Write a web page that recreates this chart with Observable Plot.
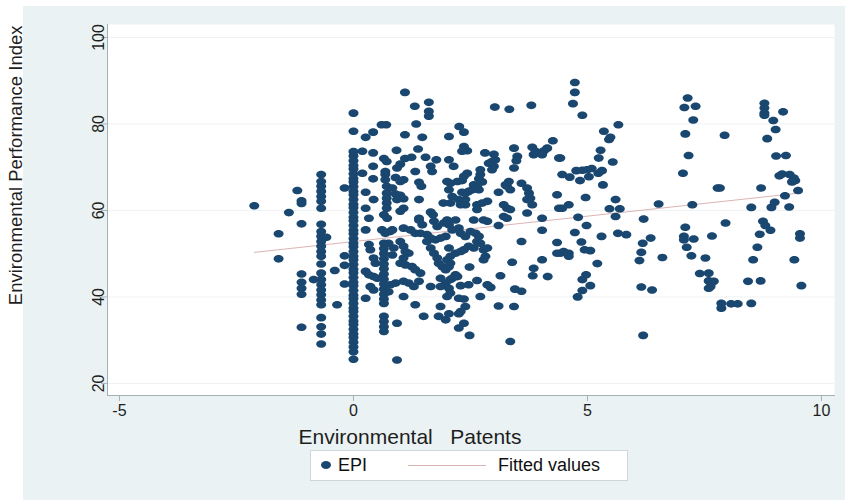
<!DOCTYPE html>
<html><head><meta charset="utf-8">
<script src="https://cdn.jsdelivr.net/npm/d3@7"></script>
<script src="https://cdn.jsdelivr.net/npm/@observablehq/plot@0.6"></script>
<style>
body{margin:0;background:#ffffff;}
#wrap{position:relative;width:845px;height:500px;overflow:hidden;font-family:"Liberation Sans",Arial,sans-serif;}
#panel{position:absolute;left:23px;top:6px;width:822px;height:494px;background:#eaf2f3;}
#chart{position:absolute;left:0;top:0;}
#legend{position:absolute;left:310px;top:450px;width:318px;height:31px;background:#fff;border:1px solid #cfd6d9;box-sizing:border-box;color:#111;font-size:18px;}
#legend .dot{position:absolute;left:10px;top:10px;width:10px;height:8px;border-radius:50%;background:#1a476f;}
#legend .t1{position:absolute;left:27px;top:4px;}
#legend .ln{position:absolute;left:97px;top:14px;width:78px;height:1px;background:#dcb4b4;}
#legend .t2{position:absolute;left:187px;top:4px;}
</style></head>
<body>
<div id="wrap"><div id="panel"></div><div id="chart"></div>
<div id="legend"></div></div>
<script>
const xTicks = [-5, 0, 5, 10];
const yTicks = [20, 40, 60, 80, 100];
const xTitle = "Environmental\u00a0\u00a0 Patents";
const yTitle = "Environmental Performance Index";
const legendLabels = ["EPI", "Fitted values"];

// fitted line endpoints
const fitX = [-2.12, 9.52];
const fitY = [50.3, 64.0];

// observations [patents, EPI]
const obsLeft = [[-2.12,61.1],[-1.6,54.6],[-1.6,48.8],[-1.38,59.5],[-1.2,64.6],[-1.11,62.2],[-1.11,61.6],[-1.11,56.9],[-1.11,45.3],[-1.11,43.4],[-1.11,42.0],[-1.11,40.6],[-1.11,33.0],[-0.85,44.0],
[-0.69,68.3],[-0.69,66.7],[-0.69,65.6],[-0.69,64.4],[-0.69,63.2],[-0.69,62.1],[-0.69,60.5],[-0.69,56.8],[-0.69,55.1],[-0.69,54.0],[-0.69,52.8],[-0.69,51.7],[-0.69,50.5],[-0.69,49.4],[-0.69,47.6],[-0.69,45.5],[-0.69,44.0],[-0.69,42.8],[-0.69,41.6],[-0.69,40.5],[-0.69,39.3],[-0.69,38.2],[-0.69,35.2],[-0.69,33.1],[-0.69,31.4],[-0.69,29.1],
[-0.58,53.8],[-0.4,46.1],[-0.35,38.2],[-0.19,65.2],[-0.19,49.5],[-0.19,47.3],[-0.19,43.0]];

const zeroEPI = [82.5,78.3,73.6,72.6,71.5,70.4,69.6,68.5,67.4,66.6,65.5,64.4,63.6,62.5,61.4,60.6,59.5,58.4,57.6,56.5,55.4,54.6,53.5,52.4,51.6,50.5,49.4,48.6,47.5,46.4,45.6,44.5,43.4,42.6,41.5,40.4,39.6,38.5,37.4,36.6,35.5,34.4,33.6,32.5,31.4,30.6,29.5,28.4,27.3,25.6];

const obsNear = [[1.10,87.3],[1.31,84.1],[1.61,85.0],[1.61,82.9],[1.61,81.8],[0.60,79.8],[0.70,79.8],[1.34,80.0],[0.26,76.9],[0.42,78.1],[1.10,77.5],[1.47,76.9],[0.19,73.7],[0.42,73.3],[0.92,73.9],[1.38,74.2],[0.65,72.0],[0.71,71.3],[1.10,72.0],[1.24,72.3],[1.54,72.3],[1.77,71.7],[0.42,70.2],[1.00,70.7],[0.93,69.8],[1.65,70.2],[1.68,69.0],[0.68,69.0],[0.68,68.3],[1.32,69.0],[0.19,68.6],[0.42,67.3],[0.68,67.1],[0.90,67.6],[1.00,66.7],[1.07,67.1],[1.40,66.5],[1.45,65.6],[2.0,66.7],
[0.71,65.6],[0.71,64.0],[0.71,62.8],[0.71,61.7],[0.71,60.5],[0.26,64.2],[0.43,62.5],[0.83,65.2],[0.90,63.8],[1.0,63.5],[1.07,62.7],[0.93,62.5],[1.40,62.5],[1.65,59.6],[1.70,59.0],[1.92,61.7],[0.26,60.5],[0.65,59.0],[0.72,58.2],[1.0,59.8],[1.07,60.5],[0.33,58.2],[1.40,58.2],
[0.26,55.5],[0.61,55.5],[0.68,54.7],[0.78,55.1],[0.83,55.5],[1.07,55.9],[1.22,55.5],[1.32,54.7],[1.43,54.7],[1.57,54.4],
[0.65,52.4],[0.65,51.2],[0.65,50.0],[0.65,48.8],[0.65,47.6],[0.65,46.5],[0.65,45.3],[0.65,44.1],[0.65,43.0],[0.65,41.8],[0.65,40.6],[0.65,39.5],[0.65,38.5],[0.65,35.5],[0.65,34.3],[0.65,33.1],[0.65,32.0],
[0.93,33.9],[0.93,25.4],[0.33,52.1],[0.36,50.9],[0.43,49.0],[0.47,47.8],[0.26,45.9],[0.33,45.1],[0.43,44.7],[0.51,44.3],[0.36,42.4],[0.43,41.6],[0.26,39.7],
[0.75,52.4],[0.86,51.3],[0.83,49.7],[1.0,52.8],[1.07,51.7],[1.11,50.5],[1.18,50.1],[1.07,49.0],[1.0,47.8],[1.11,47.4],[1.25,47.0],[1.32,46.3],
[1.43,45.5],[1.40,43.6],[1.29,42.4],[1.18,43.2],[1.07,43.6],[0.90,43.2],[0.79,42.8],[0.75,41.2],[1.07,40.1],[1.32,38.2],[1.50,35.5],[1.65,42.4],
[1.57,52.8],[1.65,51.3],[1.72,50.1],[1.79,49.0],[1.82,47.8],[1.90,47.0],[1.97,46.3],[1.65,53.6],[1.75,53.2],[1.86,53.6],[1.97,54.0],
[1.86,44.3],[1.97,43.2],[1.86,42.4],[1.86,37.8],[1.82,35.5],[1.97,34.7],[1.72,57.5],[1.79,56.3],[1.93,57.1],[2.0,57.8],[1.40,57.8],[1.47,56.7]];

const obsMid = [[3.02,83.9],[3.33,83.4],[3.80,84.3],[2.26,79.4],[2.36,78.1],[2.04,77.1],[2.36,74.8],[2.32,73.7],[2.43,73.8],[2.04,71.7],[2.14,70.2],[2.81,73.3],[3.0,73.0],[3.03,71.7],[2.96,71.3],[2.89,70.9],[3.0,70.2],[2.96,69.4],[3.43,74.4],[3.50,72.5],[3.48,71.5],[3.43,69.8],[3.82,74.6],[3.89,73.7],[4.0,73.3],[4.07,73.8],[4.14,74.4],[4.26,76.1],[3.85,72.9],[4.03,72.9],[4.39,72.1],[2.71,69.4],[2.71,68.3],[2.68,67.3],[2.43,68.6],[2.36,67.9],[2.07,66.3],[2.22,66.7],[2.32,66.9],[2.57,65.9],[2.64,65.6],[2.68,64.8],[2.75,66.6],[2.54,64.8],[2.46,64.4],[2.39,64.0],[2.32,64.2],[2.04,64.8],[2.11,63.2],[2.07,61.7],[2.25,62.5],[2.39,62.5],[2.29,61.3],[2.39,61.3],[3.10,64.2],[3.32,66.7],[3.28,65.6],[3.35,64.8],[3.25,65.9],[3.59,66.3],[3.71,65.2],[3.75,64.0],[3.78,62.8],[3.71,62.5],[3.82,61.3],[2.86,62.1],[2.75,61.7],[2.64,61.3],[3.21,61.3],[3.28,60.5],[3.35,60.2],[2.64,60.2],[3.71,59.4],[4.35,63.6],[4.39,60.5],[4.03,58.2],[2.18,57.8],[2.57,57.8],[2.78,57.8],[3.21,58.6],[3.28,58.2],
[2.04,56.7],[2.11,55.5],[2.25,55.9],[2.29,54.7],[2.39,54.0],[2.50,55.1],[2.61,54.7],[2.68,54.0],[2.64,52.8],[2.71,52.4],[2.57,51.3],[2.46,51.7],[2.86,57.5],[3.10,56.5],
[2.04,51.3],[2.07,49.4],[2.0,48.6],[2.07,47.8],[2.04,47.0],[2.18,50.1],[2.29,50.5],[2.36,50.9],[2.78,50.9],[2.86,51.3],[2.82,49.4],[2.78,48.6],[2.48,46.9],[2.18,45.1],[2.11,44.3],[2.07,44.0],[2.22,44.7],[2.64,43.8],[2.29,42.6],[2.46,42.8],[2.04,42.0],[2.07,40.9],[2.0,40.1],[2.86,42.8],[2.93,42.2],[2.71,40.1],[2.25,39.7],[2.36,39.5],[2.39,37.8],[2.29,36.6],[2.25,36.1],[2.04,36.1],[2.36,33.9],[2.25,32.8],[2.48,31.1],[3.10,37.9],[3.43,37.8],[3.35,29.7],[3.14,44.9],[3.39,48.0],[3.45,41.8],[3.59,41.3],[3.59,52.8],[4.03,55.4],[3.85,46.6],[3.83,44.9],[4.03,48.6],[4.15,44.7],[4.35,52.6],[4.35,50.1]];

const obsRight = [[4.73,89.6],[4.73,87.3],[4.69,84.7],[4.89,82.0],[5.66,79.8],[5.35,78.3],[5.46,76.4],[5.49,76.9],[5.28,73.9],[5.24,72.1],[4.42,72.1],[5.54,71.2],[4.46,68.3],[4.62,67.7],[4.76,69.2],[4.89,69.3],[4.99,69.4],[5.09,69.7],[5.23,68.6],[5.31,69.2],[4.84,66.9],[5.03,67.8],[5.33,65.9],[4.96,63.0],[4.46,60.5],[4.60,61.3],[5.60,62.5],[5.47,60.4],[5.69,60.4],[5.60,58.6],[6.52,61.5],[4.80,58.4],[6.20,58.0],[4.98,56.5],[4.73,54.9],[4.87,52.7],[5.30,54.0],[5.65,54.7],[5.83,54.4],[4.94,50.9],[5.06,50.7],[4.42,50.1],[4.60,50.1],[4.60,49.4],[4.49,50.5],[5.21,47.7],[6.18,52.4],[6.35,53.6],[6.15,50.3],[6.11,48.4],[6.60,49.1],[4.97,45.1],[4.89,44.0],[5.06,42.6],[4.89,41.5],[4.79,40.0],[6.15,42.3],[6.38,41.6],[6.19,31.1]];

const obsFar = [[7.14,86.0],[7.07,83.8],[7.31,84.1],[7.26,80.9],[7.09,77.7],[7.16,72.7],[7.04,68.6],[7.93,77.4],[7.78,65.2],[7.83,65.2],[7.24,61.3],[7.09,56.1],[7.06,54.0],[7.06,53.2],[7.27,53.4],[7.12,51.5],[7.66,54.1],[7.95,57.1],[7.22,49.5],[7.52,49.0],[7.40,45.4],[7.59,45.5],[7.59,43.7],[7.66,43.4],[7.63,42.4],[7.59,42.0],[7.70,43.6],[7.86,38.5],[7.86,37.4],[8.07,38.4],[8.21,38.4],[8.50,38.5],[8.78,84.8],[8.78,83.7],[8.78,82.5],[8.78,82.0],[9.18,82.8],[8.97,80.8],[9.02,78.7],[8.84,76.6],[9.03,72.6],[9.24,72.7],[9.10,68.0],[9.16,68.4],[9.32,68.3],[9.41,67.5],[9.44,66.9],[9.37,66.6],[9.50,64.6],[8.71,65.2],[9.22,63.4],[8.50,60.7],[8.93,60.7],[9.0,61.9],[9.31,60.8],[8.75,57.5],[8.80,56.5],[8.91,55.4],[8.68,54.5],[8.63,51.5],[8.54,48.6],[8.43,43.6],[8.70,43.7],[9.54,54.6],[9.54,53.6],[9.42,48.6],[9.57,42.6]];

const points = [
  ...obsLeft,
  ...zeroEPI.map(v => [0, v]),
  ...obsNear, ...obsMid, ...obsRight, ...obsFar
].map(([p, e]) => ({patents: p, epi: e}));
const fit = fitX.map((x, i) => ({patents: x, epi: fitY[i]}));

// elliptical marker like the reference
const ellipse = {
  draw(context, size) {
    const rx = 5, ry = 3.8, k = 0.5522847498;
    context.moveTo(rx, 0);
    context.bezierCurveTo(rx, ry * k, rx * k, ry, 0, ry);
    context.bezierCurveTo(-rx * k, ry, -rx, ry * k, -rx, 0);
    context.bezierCurveTo(-rx, -ry * k, -rx * k, -ry, 0, -ry);
    context.bezierCurveTo(rx * k, -ry, rx, -ry * k, rx, 0);
    context.closePath();
  }
};

const navy = "#1a476f", axisColor = "#a9b0b4", gridColor = "#eef2f4", textColor = "#1e1e1e";

const chart = Plot.plot({
  width: 845, height: 450,
  marginLeft: 107, marginRight: 11, marginTop: 24, marginBottom: 55,
  style: {background: "transparent", fontFamily: "'Liberation Sans', Arial, sans-serif", color: textColor},
  x: {domain: [-5.256, 10.278]},
  y: {domain: [17.2, 103.0]},
  marks: [
    Plot.frame({fill: "#ffffff", stroke: "none"}),
    Plot.gridY(yTicks, {stroke: gridColor, strokeOpacity: 1}),
    Plot.line(fit, {x: "patents", y: "epi", stroke: "#dcb4b4", strokeWidth: 1}),
    Plot.dot(points, {x: "patents", y: "epi", symbol: ellipse, fill: navy, stroke: "none"}),
    Plot.frame({anchor: "left", stroke: axisColor}),
    Plot.frame({anchor: "bottom", stroke: axisColor}),
    Plot.axisX(xTicks, {tickSize: 6, stroke: axisColor, tickFormat: () => "", label: null}),
    Plot.axisY(yTicks, {tickSize: 6, stroke: axisColor, tickFormat: () => "", label: null}),
    Plot.text(xTicks, {x: d => d, frameAnchor: "bottom", dy: 9, lineAnchor: "top", fontSize: 16, fill: textColor}),
    Plot.text(yTicks, {y: d => d, frameAnchor: "left", dx: -4, rotate: -90, textAnchor: "middle", lineAnchor: "bottom", fontSize: 16, fill: textColor}),
    Plot.text([xTitle], {frameAnchor: "bottom-left", dx: 191, dy: 42, lineAnchor: "middle", textAnchor: "start", fontSize: 21, fill: textColor}),
    Plot.text([yTitle], {frameAnchor: "top-left", dx: -91, dy: 1, rotate: -90, lineAnchor: "middle", textAnchor: "end", fontSize: 18.5, fill: textColor})
  ]
});
document.getElementById("chart").appendChild(chart);

const lg = document.getElementById("legend");
lg.innerHTML = `<span class="dot"></span><span class="t1">${legendLabels[0]}</span><span class="ln"></span><span class="t2">${legendLabels[1]}</span>`;
</script>
</body></html>
